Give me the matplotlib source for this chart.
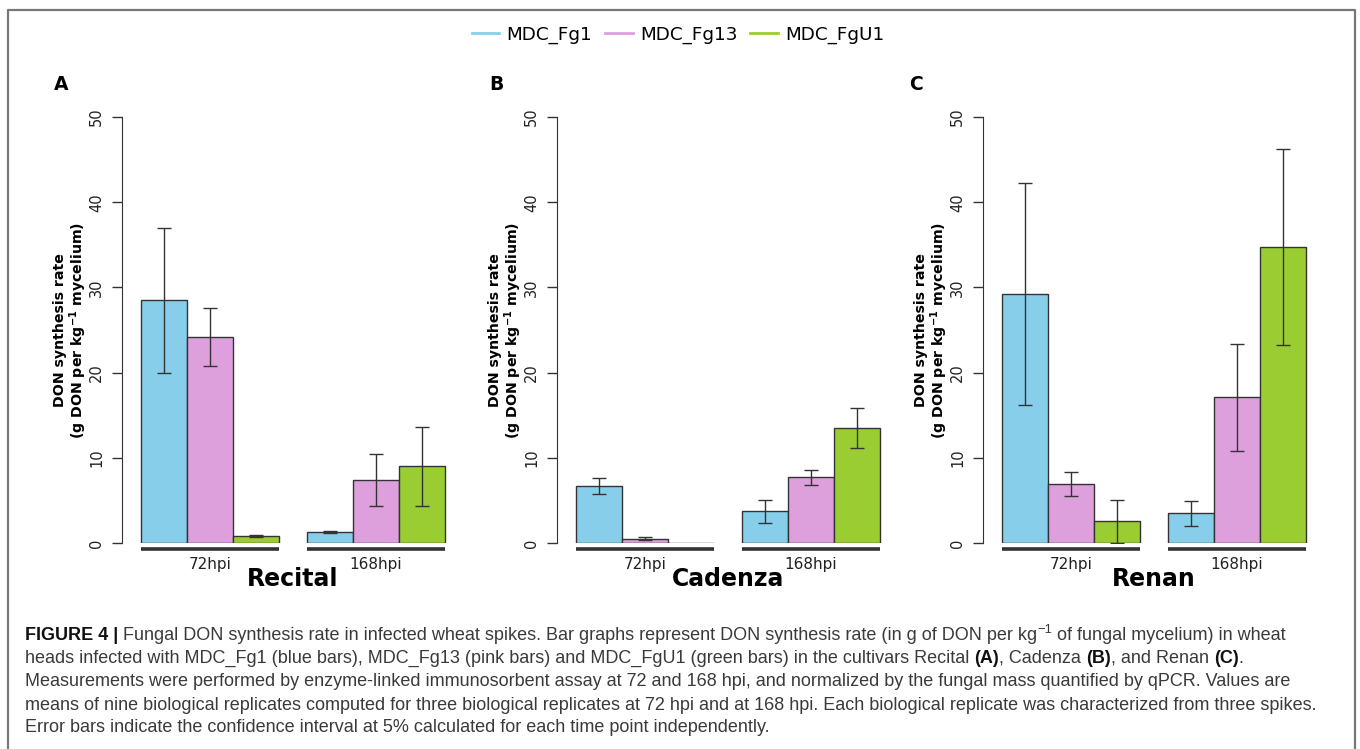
import numpy as np
import matplotlib
matplotlib.use("Agg")
import matplotlib.pyplot as plt
from matplotlib.lines import Line2D
from matplotlib import font_manager

# data: rows = time points, columns = strains
strains = ["MDC_Fg1", "MDC_Fg13", "MDC_FgU1"]
timepoints = ["72hpi", "168hpi"]
cultivars = ["Recital", "Cadenza", "Renan"]
panel_letters = ["A", "B", "C"]

recital_mean = [[28.5, 24.2, 0.8], [1.25, 7.4, 9.0]]
recital_lo = [[20.0, 20.8, 0.7], [1.15, 4.3, 4.3]]
recital_hi = [[37.0, 27.6, 0.93], [1.37, 10.5, 13.6]]

cadenza_mean = [[6.7, 0.5, 0.05], [3.7, 7.7, 13.5]]
cadenza_lo = [[5.75, 0.35, 0.05], [2.4, 6.8, 11.15]]
cadenza_hi = [[7.65, 0.68, 0.05], [5.0, 8.6, 15.8]]

renan_mean = [[29.2, 6.9, 2.6], [3.5, 17.1, 34.8]]
renan_lo = [[16.2, 5.5, 0.05], [2.05, 10.85, 23.2]]
renan_hi = [[42.2, 8.3, 5.05], [4.9, 23.35, 46.3]]

colors = ["#87CEEB", "#DDA0DD", "#9ACD32"]

W, H = 1360, 749
fig = plt.figure(figsize=(W / 100, H / 100), dpi=100)

# outer frame (open at the bottom)
frame = fig.add_axes([0, 0, 1, 1])
frame.axis("off")
frame.set_xlim(0, W)
frame.set_ylim(H, 0)
frame.plot([8, 8, 1355, 1355], [H, 10, 10, H], color="#777777", lw=1.6)

axis_x = [122, 557, 983]
letter_x = [61, 496, 916]
bar_w = 1.0
gap = 0.6
x_left, x_right = -0.42, 6.7
px_per_unit = 46

all_mean = [recital_mean, cadenza_mean, renan_mean]
all_lo = [recital_lo, cadenza_lo, renan_lo]
all_hi = [recital_hi, cadenza_hi, renan_hi]

for p in range(3):
    left = axis_x[p] / W
    bottom = 1 - 543 / H
    height = (543 - 117) / H
    width = (x_right - x_left) * px_per_unit / W
    ax = fig.add_axes([left, bottom, width, height])
    ax.set_xlim(x_left, x_right)
    ax.set_ylim(0, 50)

    centers = []
    for g in range(len(timepoints)):
        g0 = g * (3 * bar_w + gap)
        for s in range(len(strains)):
            x0 = g0 + s * bar_w
            m = all_mean[p][g][s]
            lo = all_lo[p][g][s]
            hi = all_hi[p][g][s]
            ax.bar(x0, m, width=bar_w, align="edge", color=colors[s],
                   edgecolor="#333333", lw=1.0, zorder=2)
            if hi - lo > 0.01:
                ax.errorbar(x0 + bar_w / 2, m, yerr=[[m - lo], [hi - m]],
                            fmt="none", ecolor="#333333", elinewidth=1.0,
                            capsize=5, capthick=1.0, zorder=3)
        # group underline
        ax.plot([g0, g0 + 3 * bar_w], [-0.72, -0.72], color="#333333",
                lw=2.6, solid_capstyle="butt", clip_on=False)
        centers.append(g0 + 1.5 * bar_w)

    for side in ["top", "right", "bottom"]:
        ax.spines[side].set_visible(False)
    ax.spines["left"].set_bounds(0, 50)
    ax.spines["left"].set_color("#333333")
    ax.set_yticks([0, 10, 20, 30, 40, 50])
    ax.tick_params(axis="y", length=7, width=1, color="#333333", pad=6,
                   labelsize=10.5, labelcolor="#222222")
    for lab in ax.get_yticklabels():
        lab.set_rotation(90)
        lab.set_va("center")
    ax.set_xticks(centers)
    ax.set_xticklabels(timepoints)
    ax.tick_params(axis="x", length=0, pad=10, labelsize=11, labelcolor="#222222")

    ax.set_ylabel("DON synthesis rate\n(g DON per kg$^{\\mathbf{-1}}$ mycelium)",
                  fontsize=10.2, fontweight="bold", linespacing=1.0)
    ax.yaxis.set_label_coords(-33 / 327.5, 0.5)

    xmid = (0 + 2 * 3 * bar_w + gap) / 2
    ax.text(xmid, -4.2, cultivars[p], ha="center", va="center",
            fontsize=17, fontweight="bold")

    fig.text(letter_x[p] / W, 1 - 84 / H, panel_letters[p], ha="center",
             va="center", fontsize=13.5, fontweight="bold")

handles = [Line2D([0], [0], color=c, lw=2) for c in colors]
fig.legend(handles, strains, loc="center", bbox_to_anchor=(678 / W, 1 - 35 / H),
           ncol=3, frameon=False, fontsize=13.2, handlelength=1.5,
           handletextpad=0.4, columnspacing=0.7)

# caption
names = {f.name for f in font_manager.fontManager.ttflist}
if "Liberation Sans Narrow" in names:
    cap_font, cap_size = "Liberation Sans Narrow", 15.7
else:
    cap_font, cap_size = "Liberation Sans", 13.0
cap_color = "#3a3a3a"

caption = [
    [("FIGURE 4 |", "b"),
     (" Fungal DON synthesis rate in infected wheat spikes. Bar graphs represent DON synthesis rate (in g of DON per kg", "r"),
     ("\u22121", "s"),
     (" of fungal mycelium) in wheat", "r")],
    [("heads infected with MDC_Fg1 (blue bars), MDC_Fg13 (pink bars) and MDC_FgU1 (green bars) in the cultivars Recital ", "r"),
     ("(A)", "b"), (", Cadenza ", "r"), ("(B)", "b"), (", and Renan ", "r"), ("(C)", "b"), (".", "r")],
    [("Measurements were performed by enzyme-linked immunosorbent assay at 72 and 168 hpi, and normalized by the fungal mass quantified by qPCR. Values are", "r")],
    [("means of nine biological replicates computed for three biological replicates at 72 hpi and at 168 hpi. Each biological replicate was characterized from three spikes.", "r")],
    [("Error bars indicate the confidence interval at 5% calculated for each time point independently.", "r")],
]
line_y = [635, 658, 682, 705, 728]

for y, segs in zip(line_y, caption):
    first = None
    prev = None
    for txt, st in segs:
        kw = dict(family=cap_font, fontsize=cap_size, color=cap_color)
        if st == "b":
            kw.update(fontweight="bold", color="#111111")
        if st == "s":
            kw.update(fontsize=cap_size * 0.72)
        if prev is None:
            t = frame.text(25, y, txt, ha="left", va="center", **kw)
            first = t
        else:
            yfrac = 0.45 if st == "s" else 0.0
            t = frame.annotate(txt, xy=(1, yfrac), xycoords=(prev, first),
                               ha="left", va="bottom", **kw)
        prev = t

fig.savefig("out.png", dpi=100)
